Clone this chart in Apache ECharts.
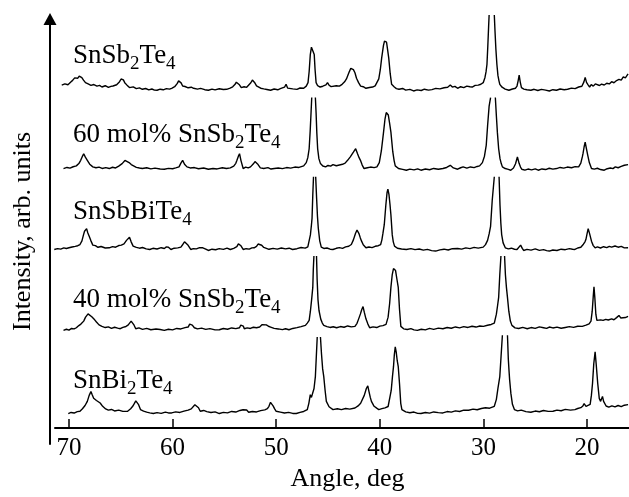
<!DOCTYPE html>
<html>
<head>
<meta charset="utf-8">
<script src="https://cdn.jsdelivr.net/npm/echarts@6/dist/echarts.min.js"></script>
<style>html,body{margin:0;padding:0;background:#fff;}#c{width:629px;height:497px;}</style>
</head>
<body>
<div id="c"></div>
<script>
// ---- data: [angle (deg), intensity (arb. units, stacked)] ----
const xTicks = [70, 60, 50, 40, 30, 20];
// "_n" marks a subscript digit
const traceNames = ['SnSb_2Te_4', '60 mol% SnSb_2Te_4', 'SnSbBiTe_4', '40 mol% SnSb_2Te_4', 'SnBi_2Te_4'];

const snSb2Te4 = [
[70.7,346.3],[70.4,347.5],[70.1,346.6],[69.85,349.2],[69.65,351],[69.45,353.5],[69.29,354.3],[69.15,353.2],[69.01,355.3],[68.88,353.9],[68.76,353.7],[68.6,351.2],[68.41,348.7],[68.15,347.4],[67.88,346],[67.6,346.8],[67.3,345.2],[67.05,345.9],[66.82,344.3],[66.5,345.6],[66.2,343.9],[65.95,345],[65.75,345.3],[65.4,346.6],[65.12,349.7],[64.97,352.4],[64.87,354.3],[64.75,351.5],[64.62,348.7],[64.4,346.2],[64.16,343.7],[63.8,344.5],[63.5,342.6],[63.2,343.4],[62.92,342],[62.6,342.8],[62.3,341.4],[62.0,342.3],[61.75,341.2],[61.5,341],[61.2,342.1],[60.9,341.5],[60.6,342.7],[60.3,342.2],[60.09,343],[59.8,344.6],[59.56,347.7],[59.42,350.5],[59.31,352],[59.18,348.5],[59.03,345.3],[58.8,344.8],[58.5,343.5],[58.2,344.1],[57.97,343],[57.6,342.2],[57.3,342.9],[56.9,341.6],[56.55,341],[56.2,342.2],[55.9,341.4],[55.5,342.5],[55.1,341.8],[54.78,342],[54.45,343.2],[54.2,344.5],[53.97,347],[53.85,349.2],[53.72,350.3],[53.55,346.5],[53.37,343.7],[53.1,344.6],[52.85,344],[52.66,345.3],[52.45,348.6],[52.3,351.3],[52.2,352],[52.05,348.3],[51.9,345.5],[51.78,344.3],[51.5,343.1],[51.2,342.4],[50.9,341.8],[50.54,341],[50.2,342.3],[49.85,341.5],[49.6,342.6],[49.48,342],[49.2,344.1],[49.05,347],[48.9,343.2],[48.77,341.7],[48.4,342.4],[48.0,341.9],[47.7,343.3],[47.35,343],[47.1,345.2],[46.93,348.7],[46.82,360],[46.71,377],[46.6,384.5],[46.54,386.3],[46.45,383.6],[46.33,377],[46.25,362],[46.15,348.7],[46.0,345.6],[45.76,344.3],[45.5,345.1],[45.2,346.4],[45.05,348.7],[44.9,346.1],[44.7,344.7],[44.52,344.3],[44.2,345.6],[43.9,345.2],[43.64,347],[43.4,349.5],[43.22,352.4],[43.11,355.3],[42.95,359.6],[42.8,363.2],[42.68,364.7],[42.55,361.8],[42.4,358.7],[42.25,353.2],[42.05,348.7],[41.85,345.2],[41.6,344.6],[41.34,343],[41.0,343.8],[40.7,344.3],[40.45,345.5],[40.28,347],[40.1,352.5],[39.95,362],[39.82,373.7],[39.65,386],[39.55,390.6],[39.46,392],[39.35,389.5],[39.25,382],[39.14,373.7],[39.0,358],[38.86,347],[38.6,344.3],[38.4,342.7],[38.15,342],[37.8,342.8],[37.5,341.2],[37.1,341.9],[36.74,340.3],[36.4,341.4],[36.0,340.8],[35.7,342.1],[35.3,341.2],[34.97,341.7],[34.6,342.9],[34.2,342.4],[33.8,343.6],[33.45,344.1],[33.2,346.3],[33.0,344.2],[32.75,345],[32.49,343],[32.2,344.6],[31.9,343.7],[31.6,345.2],[31.3,344.6],[31.08,344.3],[30.8,345.9],[30.5,346.2],[30.25,347.1],[30.02,348.7],[29.85,354],[29.75,359.5],[29.66,367],[29.58,385],[29.5,405],[29.45,417],[29.2,null],[28.95,417],[28.88,400],[28.8,383],[28.7,367],[28.6,356],[28.5,350.5],[28.42,347],[28.2,344.1],[27.9,342.2],[27.54,341],[27.2,342.3],[26.9,343.1],[26.76,345.3],[26.65,350.5],[26.55,356.3],[26.45,349.5],[26.33,343.7],[26.1,342.2],[25.8,341.5],[25.42,341],[25.1,342],[24.75,340.8],[24.4,341.9],[24.0,341.1],[23.64,340.3],[23.3,341.6],[22.95,341],[22.6,342.3],[22.2,341.6],[21.88,342],[21.5,343.2],[21.15,342.7],[20.81,344.3],[20.5,345.1],[20.3,349.5],[20.18,354],[20.05,349],[19.9,346.5],[19.75,344.3],[19.6,346.8],[19.4,345.2],[19.2,347.4],[19.05,347],[18.8,345.8],[18.6,347.2],[18.34,346.3],[18.1,348.1],[17.85,347.4],[17.63,349.7],[17.4,348.6],[17.15,350.8],[16.92,352],[16.7,351.2],[16.5,354.5],[16.3,353.6],[16.04,357.5]
];

const mol60 = [
[70.53,262],[70.2,263.1],[69.9,262.4],[69.6,263.8],[69.29,264.7],[69.05,267],[68.87,270.3],[68.72,274],[68.58,277],[68.42,273.5],[68.23,270.3],[68.0,266.4],[67.7,263.7],[67.4,262.8],[67.1,263.4],[66.8,262.1],[66.45,262.9],[66.11,262],[65.8,263.3],[65.5,262.6],[65.2,264.5],[64.87,267],[64.6,270.2],[64.41,272],[64.2,268],[63.99,266],[63.81,264.7],[63.5,263.2],[63.2,262.5],[62.92,262],[62.5,262.8],[62.1,261.7],[61.7,262.4],[61.2,261.5],[60.8,261.3],[60.4,262.2],[60.0,261.8],[59.7,262.7],[59.38,263.7],[59.2,267.5],[59.03,270.3],[58.85,266.4],[58.61,263.7],[58.3,262.6],[57.9,263],[57.5,261.8],[57.0,262.5],[56.55,261.3],[56.1,262.1],[55.7,261.6],[55.2,262.8],[54.8,262.1],[54.43,262.7],[54.1,264.5],[53.9,267.3],[53.79,270.3],[53.65,274.5],[53.54,277],[53.4,270],[53.19,262],[52.95,263.5],[52.7,262.6],[52.48,263.7],[52.2,266.8],[52.05,269],[51.95,270.3],[51.75,266],[51.53,262.7],[51.2,262.1],[50.8,262.9],[50.5,261.5],[50.19,262],[49.8,262.6],[49.4,261.9],[49.0,263],[48.6,262.4],[48.2,263.5],[47.8,263.1],[47.35,264.7],[47.1,268],[46.95,273],[46.82,282],[46.72,300],[46.63,320],[46.57,333.7],[46.4,null],[46.22,333.7],[46.15,318],[46.08,298],[46.0,282],[45.88,272],[45.73,267],[45.5,264.6],[45.23,263.7],[45.0,265.1],[44.75,264.4],[44.52,266],[44.2,264.8],[43.9,265.6],[43.6,266.3],[43.35,267.5],[43.11,270.3],[42.85,273.8],[42.55,278.5],[42.33,282],[42.15,277],[42.0,273],[41.87,270.3],[41.7,265.5],[41.52,262],[41.2,262.8],[40.9,263.5],[40.55,262.9],[40.28,263.7],[40.05,268],[39.85,280],[39.75,289],[39.64,298.7],[39.5,312],[39.38,318.5],[39.29,320.3],[39.18,316],[39.06,308],[38.93,298.7],[38.75,279],[38.62,270],[38.51,264.7],[38.2,262.1],[37.8,261.2],[37.44,260.3],[37.1,261.4],[36.7,260.7],[36.35,261.7],[36.03,260.3],[35.6,261.5],[35.2,260.8],[34.8,262.1],[34.35,261.3],[33.91,262],[33.55,263.1],[33.2,265.3],[32.9,262.6],[32.49,261.3],[32.2,262.8],[31.96,263.7],[31.6,262.4],[31.25,263.6],[30.9,262.9],[30.6,264.1],[30.37,264.7],[30.1,268],[29.9,274.5],[29.73,285.3],[29.6,305],[29.45,325],[29.31,333.7],[29.1,null],[28.85,333.7],[28.75,315],[28.65,298],[28.53,282],[28.4,272],[28.28,267],[28.17,263.7],[27.9,262],[27.6,261.2],[27.36,260.3],[27.1,262.5],[26.9,266.8],[26.72,273.7],[26.55,267],[26.42,263.5],[26.3,261.3],[26.0,260.4],[25.7,261.5],[25.35,260.6],[25.0,261.7],[24.71,260.3],[24.35,261.6],[24.0,261],[23.65,262.3],[23.3,261.4],[22.94,262],[22.6,263.1],[22.25,262.4],[21.9,263.5],[21.5,262.8],[21.15,263.9],[20.81,263.7],[20.6,267.5],[20.45,274],[20.39,277],[20.28,284],[20.18,288.7],[20.06,282],[19.93,275.3],[19.78,268],[19.57,262],[19.3,261.4],[19.0,262.3],[18.7,261],[18.34,260.3],[18.05,261.8],[17.75,262.6],[17.5,261.9],[17.27,263.7],[17.0,262.8],[16.7,264.1],[16.4,265.3],[16.04,266]
];

const snSbBiTe4 = [
[71.42,180.3],[71.1,181.2],[70.8,180.6],[70.5,181.9],[70.25,181.3],[70.0,182],[69.7,182.8],[69.4,183.5],[69.15,184.1],[68.94,185.3],[68.75,189],[68.6,195],[68.5,198.7],[68.4,197.5],[68.3,201.3],[68.18,197],[68.05,193.7],[67.9,189.5],[67.7,184.7],[67.45,184.2],[67.2,182.5],[66.9,183.3],[66.5,181.8],[66.11,182],[65.8,183.2],[65.5,182.6],[65.2,184.3],[64.95,184.7],[64.69,186],[64.45,189.5],[64.3,191.3],[64.16,192.7],[64.0,188],[63.81,183.7],[63.5,182.4],[63.2,181.6],[62.9,182.3],[62.55,180.9],[62.21,180.3],[61.9,181.5],[61.5,180.8],[61.1,182.1],[60.8,181.3],[60.6,182.9],[60.52,184.7],[60.4,182.6],[60.16,180.3],[59.85,181.6],[59.5,181.9],[59.2,182.7],[59.0,185.6],[58.85,188],[58.68,189.3],[58.5,184.5],[58.25,180.3],[58.0,181.2],[57.7,180.9],[57.4,182.2],[57.08,182],[56.8,180.7],[56.55,179.3],[56.2,180.6],[55.85,180],[55.5,181.2],[55.1,180.4],[54.75,181.6],[54.43,180.3],[54.1,181.5],[53.8,183.2],[53.65,186],[53.54,188],[53.4,184],[53.19,180.3],[52.9,181.1],[52.6,180.7],[52.35,181.9],[52.13,182],[51.9,183.5],[51.75,185.8],[51.6,187],[51.4,184.6],[51.2,182.4],[51.07,181.3],[50.7,180.5],[50.3,181.4],[49.9,180.6],[49.5,181.8],[49.1,180.9],[48.75,181.6],[48.42,180.3],[48.0,181.1],[47.6,182.3],[47.2,181.7],[46.95,183],[46.82,183.7],[46.7,195],[46.6,205],[46.54,212],[46.47,235],[46.4,253.7],[46.3,null],[46.19,253.7],[46.1,232],[46.02,214],[45.94,202],[45.8,189],[45.65,182.7],[45.4,181.3],[45.1,181.8],[44.8,180.6],[44.52,180.3],[44.2,181.5],[43.9,182.2],[43.6,181.4],[43.3,182.9],[43.0,183.6],[42.75,185.3],[42.55,190],[42.35,196.5],[42.2,200],[42.12,201.3],[42.0,196],[41.88,192],[41.76,188.7],[41.6,185],[41.34,182],[41.05,182.8],[40.75,182.2],[40.45,183.5],[40.15,184.1],[39.92,185.3],[39.8,190],[39.7,196.5],[39.57,205.3],[39.42,225],[39.3,238],[39.22,241.3],[39.12,236],[39.02,226],[38.93,215.3],[38.8,195],[38.7,188],[38.58,183.7],[38.3,181.6],[37.9,180.8],[37.44,180.3],[37.0,181.2],[36.6,180.1],[36.2,180.8],[35.8,179.6],[35.4,180.4],[35.0,179.2],[34.61,178.7],[34.2,179.9],[33.8,180.6],[33.4,179.8],[33.0,181.1],[32.49,181.3],[32.1,180.6],[31.7,181.9],[31.3,181.2],[30.9,182.4],[30.5,181.7],[30.02,182.7],[29.8,185.2],[29.6,189.5],[29.45,196],[29.31,203.7],[29.15,230],[28.95,253.7],[28.7,null],[28.49,253.7],[28.4,225],[28.32,207],[28.24,195.3],[28.1,187],[27.89,182],[27.6,180.9],[27.3,181.6],[27.0,180.5],[26.76,180.3],[26.58,182.2],[26.41,184.7],[26.25,181.4],[26.12,179.3],[25.8,180.4],[25.4,179.7],[25.0,180.9],[24.6,179.4],[24.2,180.2],[23.9,179.1],[23.64,178.7],[23.3,179.8],[22.9,179.3],[22.5,180.6],[22.1,180.1],[21.7,181.2],[21.4,180.5],[21.17,180.3],[20.9,181.8],[20.6,182.5],[20.35,185.6],[20.2,188],[20.11,190.3],[20.0,196],[19.89,201.3],[19.76,196.5],[19.57,188.7],[19.4,184.2],[19.22,182],[19.0,182.9],[18.7,181.8],[18.4,183.1],[18.1,182.2],[17.85,183.5],[17.63,182.7],[17.3,183.8],[17.0,182.6],[16.7,183.4],[16.4,181.9],[16.04,182]
];

const mol40 = [
[70.53,98.7],[70.25,99.8],[70.0,98.9],[69.75,100.6],[69.5,100.1],[69.29,101.3],[69.05,103.5],[68.85,105],[68.58,108],[68.4,112],[68.16,115.3],[68.0,113.5],[67.8,112.4],[67.65,110.6],[67.52,109.3],[67.35,107.1],[67.1,104.2],[66.82,102.7],[66.5,101.5],[66.2,102.2],[65.9,100.6],[65.6,101.8],[65.3,100.9],[65.05,100.3],[64.8,101.7],[64.5,102.6],[64.3,103.9],[64.16,105.3],[64.0,108],[63.91,109.3],[63.75,104.5],[63.56,100.3],[63.25,101.2],[62.9,99.7],[62.5,100.6],[62.1,99.3],[61.6,100.1],[61.2,99.5],[60.8,98.7],[60.4,99.8],[60.0,99.2],[59.6,100.6],[59.2,100.1],[58.8,101.4],[58.5,102],[58.35,105],[58.25,107],[58.1,104],[57.9,101.3],[57.6,100.2],[57.2,100.9],[56.8,99.6],[56.4,100.4],[55.9,99.1],[55.49,99.3],[55.1,100.5],[54.7,99.8],[54.3,101.1],[53.9,100.4],[53.54,101.3],[53.42,104],[53.3,106],[53.18,103],[53.08,100.3],[52.8,101.2],[52.5,100.6],[52.2,101.8],[51.9,101.3],[51.6,102],[51.35,104.5],[51.17,106],[50.95,104.2],[50.75,102.8],[50.54,102],[50.2,100.7],[49.8,100.1],[49.4,99.4],[49.1,100.3],[48.77,99.3],[48.4,100.6],[48.0,101.4],[47.6,102.5],[47.18,103.7],[47.0,106],[46.82,108.7],[46.7,118],[46.58,130],[46.47,142],[46.42,160],[46.36,173.7],[46.25,null],[46.11,173.7],[46.05,150],[45.97,130],[45.87,118.7],[45.7,110],[45.55,106],[45.41,103.7],[45.1,102.5],[44.8,101.6],[44.5,102.3],[44.17,101.3],[43.8,102.5],[43.45,101.8],[43.1,103.1],[42.75,102.2],[42.4,102.7],[42.2,105.8],[42.05,110],[41.87,115.3],[41.75,119.5],[41.62,122.7],[41.5,117],[41.34,110.3],[41.15,105],[40.98,101.3],[40.65,102.2],[40.3,101.5],[40.0,102.9],[39.7,103.4],[39.4,104.7],[39.2,112],[39.05,126],[38.93,142],[38.8,155],[38.68,161],[38.58,162.7],[38.48,159],[38.36,151],[38.22,142],[38.1,120],[37.97,102.7],[37.7,100.2],[37.35,99.5],[37.0,100.4],[36.7,99.1],[36.38,98.7],[36.0,99.8],[35.6,99.2],[35.2,100.6],[34.8,99.7],[34.35,100.9],[33.91,100.3],[33.5,101.5],[33.1,100.8],[32.7,102.1],[32.3,101.2],[31.9,102.4],[31.5,101.6],[31.1,102.8],[30.72,102],[30.35,103.1],[30.0,102.7],[29.6,103.8],[29.25,104.6],[28.95,106],[28.75,115],[28.63,124],[28.53,132],[28.42,155],[28.31,173.7],[28.15,null],[27.96,173.7],[27.88,155],[27.78,142],[27.68,132],[27.55,118],[27.4,108],[27.25,103.7],[26.95,101.2],[26.6,100.5],[26.2,101.6],[25.77,100.3],[25.4,101.5],[25.0,100.7],[24.6,102.2],[24.2,101.3],[23.9,100.6],[23.64,102],[23.3,101.1],[22.9,101.9],[22.5,100.8],[22.1,101.6],[21.7,102.4],[21.3,101.7],[20.9,102.8],[20.46,102.7],[20.1,103.9],[19.8,105.2],[19.62,108],[19.5,118],[19.4,133],[19.33,142.7],[19.25,132],[19.15,115],[19.05,108.7],[18.9,110.2],[18.69,109.3],[18.45,108.7],[18.2,109.8],[17.95,109.1],[17.63,110.3],[17.4,109.4],[17.15,111.5],[16.92,113.7],[16.75,111.2],[16.58,110.3],[16.3,111.6],[16.04,112.7]
];

const snBi2Te4 = [
[70.07,14.7],[69.8,15.8],[69.5,15.2],[69.2,16.6],[68.94,17],[68.7,19.5],[68.45,22.8],[68.23,27],[68.05,33],[67.88,37],[67.75,33.5],[67.62,30.2],[67.52,28.7],[67.35,27.9],[67.2,26.1],[66.99,25.3],[66.75,22],[66.46,19.3],[66.2,18.1],[65.9,18.8],[65.6,17.3],[65.2,18.2],[64.8,16.9],[64.34,17],[64.05,19.5],[63.85,22],[63.7,24.7],[63.55,27.5],[63.45,29.3],[63.3,24],[63.1,18.7],[62.8,17.2],[62.5,16.1],[62.2,15.4],[61.86,14.7],[61.5,15.6],[61.1,14.9],[60.7,16.1],[60.4,15.3],[60.09,15.3],[59.7,16.4],[59.3,15.8],[58.9,17.2],[58.5,18.1],[58.2,19.4],[58.04,20.3],[57.85,23.6],[57.69,25.3],[57.5,20.5],[57.33,17],[57.0,17.8],[56.7,16.6],[56.3,15.7],[55.9,16.4],[55.49,14.7],[55.1,15.9],[54.7,15.4],[54.3,16.8],[53.9,16.2],[53.5,17.8],[53.2,18.5],[53.02,20.3],[52.85,18.2],[52.66,16],[52.3,16.8],[51.9,16.3],[51.5,17.6],[51.1,18.4],[50.85,19.6],[50.7,22],[50.55,26],[50.46,28],[50.3,22.5],[50.15,19.4],[50.0,17],[49.6,16.1],[49.2,15.2],[48.8,15.9],[48.4,14.8],[48.06,14.7],[47.7,15.9],[47.35,16.8],[47.0,18.7],[46.85,25],[46.71,33.7],[46.6,31],[46.47,31.3],[46.35,40],[46.22,52],[46.13,72],[46.04,92],[45.9,null],[45.73,92],[45.63,75],[45.52,60],[45.41,52],[45.28,38],[45.16,27],[44.9,21.5],[44.52,18.7],[44.1,19.5],[43.7,18.6],[43.3,19.8],[42.9,19.2],[42.4,20.3],[42.1,22.4],[41.85,25.1],[41.69,27],[41.5,33],[41.3,40],[41.16,42.7],[41.05,37],[40.92,31],[40.81,27],[40.55,22],[40.3,20.1],[40.1,18.7],[39.8,19.6],[39.5,20.4],[39.2,21.8],[39.04,23.7],[38.9,38],[38.78,52],[38.68,62],[38.6,74],[38.51,82],[38.42,77],[38.32,68],[38.22,62],[38.1,45],[37.98,25],[37.87,18.7],[37.5,16.4],[37.1,15.5],[36.7,16.2],[36.35,14.9],[36.03,14.7],[35.6,15.8],[35.2,15.1],[34.8,16.3],[34.35,15.6],[33.91,15.3],[33.5,16.7],[33.1,16.1],[32.7,17.4],[32.3,16.8],[31.9,18.1],[31.43,18],[31.0,19.2],[30.6,18.5],[30.2,19.8],[29.8,20.6],[29.4,20.1],[28.95,22],[28.75,29],[28.6,40],[28.42,52],[28.3,72],[28.17,93.7],[27.9,null],[27.68,93.7],[27.6,70],[27.53,58],[27.47,48.7],[27.35,35],[27.2,24],[27.01,18.7],[26.7,17.4],[26.35,18.1],[25.9,16.6],[25.42,16],[25.0,17.2],[24.6,16.5],[24.2,17.8],[23.75,16.9],[23.29,17],[22.9,18.2],[22.5,17.5],[22.1,18.9],[21.6,18.1],[21.17,18.7],[20.9,19.8],[20.6,20.6],[20.4,22.4],[20.28,24.7],[20.1,22],[19.93,20.3],[19.7,24],[19.58,33],[19.47,45.3],[19.35,65],[19.22,77],[19.12,65],[18.97,45.3],[18.82,30],[18.69,27],[18.6,29.5],[18.51,32],[18.4,27],[18.16,22.3],[17.9,21.1],[17.6,22.5],[17.3,21.4],[17.0,22.8],[16.7,21.6],[16.4,23.1],[16.04,23.7]
];

const traces = [snSb2Te4, mol60, snSbBiTe4, mol40, snBi2Te4];

// ---- chart ----
const FONT = "'Liberation Serif', 'Times New Roman', serif";
const chart = echarts.init(document.getElementById('c'), null, {renderer: 'canvas'});
const labelTops = [42, 121, 198, 286, 367];

function toRich(name) {
  return name.split(/_(\d)/).map((part, i) => {
    if (!part) return '';
    return (i % 2 ? '{s|' : '{n|') + part + '}';
  }).join('');
}

const option = {
  animation: false,
  backgroundColor: '#fff',
  grid: [
    {left: 55, right: 0, top: 14, bottom: 65},
    {left: 50, width: 1, top: 19, bottom: 53}
  ],
  xAxis: [
    {
      type: 'value', gridIndex: 0, inverse: true, min: 15.95, max: 71.35,
      splitLine: {show: false},
      axisLine: {show: true, lineStyle: {color: '#000', width: 2}},
      axisTick: {show: true, inside: true, length: 9, customValues: xTicks, lineStyle: {color: '#000', width: 1.5}},
      axisLabel: {show: true, customValues: xTicks, margin: 8, color: '#000', fontFamily: FONT, fontSize: 25},
      name: 'Angle, deg', nameLocation: 'middle', nameGap: 34,
      nameTextStyle: {color: '#000', fontFamily: FONT, fontSize: 26, padding: [0, 0, 0, 11]}
    },
    {type: 'value', gridIndex: 1, show: false}
  ],
  yAxis: [
    {type: 'value', gridIndex: 0, min: 0, max: 418, show: false},
    {
      type: 'value', gridIndex: 1, min: 0, max: 1,
      splitLine: {show: false}, axisTick: {show: false}, axisLabel: {show: false},
      axisLine: {show: true, symbol: ['none', 'triangle'], symbolSize: [13, 12], lineStyle: {color: '#000', width: 2}},
      name: 'Intensity, arb. units', nameLocation: 'middle', nameRotate: 90, nameGap: 14,
      nameTextStyle: {color: '#000', fontFamily: FONT, fontSize: 26}
    }
  ],
  series: traces.map((d) => ({
    type: 'line', xAxisIndex: 0, yAxisIndex: 0, data: d,
    showSymbol: false, symbol: 'none', connectNulls: false, smooth: false,
    lineStyle: {color: '#000', width: 1.4}, silent: true, z: 2
  })),
  graphic: traceNames.map((t, i) => ({
    type: 'text', left: 73, top: labelTops[i], silent: true,
    style: {
      text: toRich(t), fill: '#000', fontFamily: FONT, fontSize: 27,
      lineHeight: 27, verticalAlign: 'top',
      rich: {
        n: {fontFamily: FONT, fontSize: 27, lineHeight: 27, verticalAlign: 'top', fill: '#000'},
        s: {fontFamily: FONT, fontSize: 19, lineHeight: 19, verticalAlign: 'top', padding: [13, 0, 0, 0], fill: '#000'}
      }
    }
  }))
};
chart.setOption(option);
</script>
</body>
</html>
